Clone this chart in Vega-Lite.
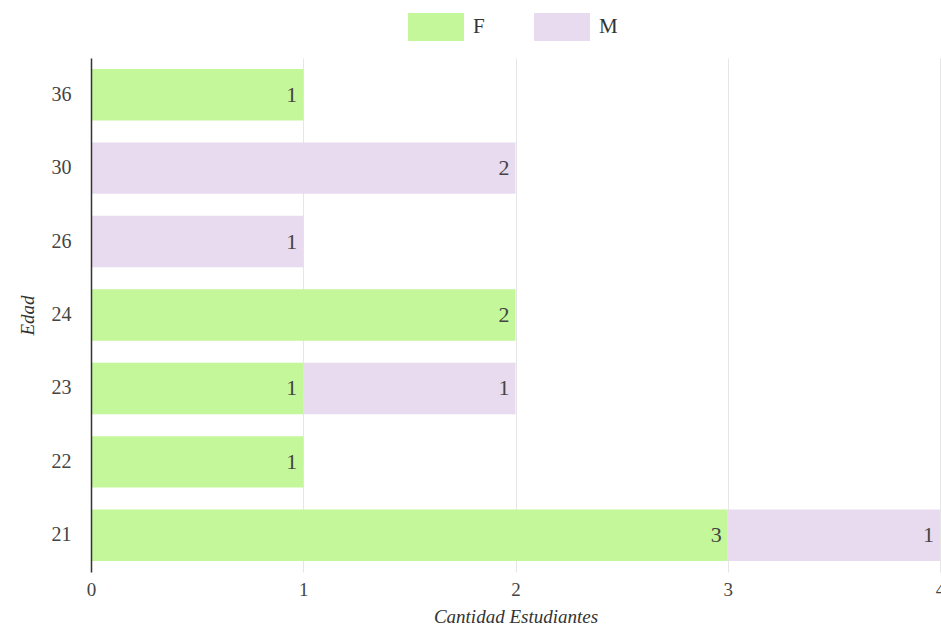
{
  "$schema": "https://vega.github.io/schema/vega-lite/v6.json",
  "autosize": {"type": "none"},
  "padding": {"left": 91, "top": 58, "right": 1, "bottom": 53},
  "width": 849,
  "height": 514,
  "background": "white",
  "config": {"view": {"stroke": null}},
  "data": {"values": [
    {"edad": "36", "sexo": "F", "n": 1},
    {"edad": "30", "sexo": "M", "n": 2},
    {"edad": "26", "sexo": "M", "n": 1},
    {"edad": "24", "sexo": "F", "n": 2},
    {"edad": "23", "sexo": "F", "n": 1},
    {"edad": "23", "sexo": "M", "n": 1},
    {"edad": "22", "sexo": "F", "n": 1},
    {"edad": "21", "sexo": "F", "n": 3},
    {"edad": "21", "sexo": "M", "n": 1}
  ]},
  "transform": [
    {"stack": "n", "groupby": ["edad"], "sort": [{"field": "sexo", "order": "ascending"}], "as": ["x0", "x1"]}
  ],
  "encoding": {
    "y": {
      "field": "edad", "type": "ordinal",
      "sort": ["36", "30", "26", "24", "23", "22", "21"],
      "scale": {"paddingInner": 0.3, "paddingOuter": 0.15},
      "axis": {
        "title": "Edad", "titleFont": "Liberation Serif", "titleFontStyle": "italic",
        "titleFontWeight": "normal", "titleFontSize": 19, "titleColor": "#333", "titlePadding": 14,
        "labelFont": "Liberation Serif", "labelFontSize": 20, "labelColor": "#444",
        "labelPadding": 20, "ticks": false, "domainColor": "#333", "domainWidth": 1.5, "grid": false,
        "zindex": 1
      }
    }
  },
  "layer": [
    {
      "mark": {"type": "bar", "opacity": 1},
      "encoding": {
        "x": {
          "field": "x0", "type": "quantitative",
          "scale": {"domain": [0, 4], "nice": false},
          "axis": {
            "title": "Cantidad Estudiantes", "titleFont": "Liberation Serif", "titleFontStyle": "italic",
            "titleFontWeight": "normal", "titleFontSize": 19, "titleColor": "#333", "titlePadding": 8,
            "labelFont": "Liberation Serif", "labelFontSize": 19, "labelColor": "#444",
            "labelPadding": 8, "ticks": false, "domain": false, "tickCount": 4,
            "grid": true, "gridColor": "#e6e6e6", "labelFlush": false, "zindex": 0
          }
        },
        "x2": {"field": "x1"},
        "color": {
          "field": "sexo", "type": "nominal",
          "scale": {"domain": ["F", "M"], "range": ["#c3f79a", "#e8dbef"]},
          "legend": {
            "title": null, "orient": "none", "direction": "horizontal",
            "legendX": 317, "legendY": -59,
            "symbolType": "M-1,-0.5H1V0.5H-1Z", "symbolSize": 3136,
            "symbolStrokeWidth": 0, "symbolOpacity": 1,
            "labelFont": "Liberation Serif", "labelFontSize": 21, "labelColor": "#333",
            "labelOffset": 9, "columnPadding": 49
          }
        }
      }
    },
    {
      "mark": {"type": "text", "align": "right", "dx": -6, "font": "Liberation Serif", "fontSize": 22, "color": "#444"},
      "encoding": {
        "x": {"field": "x1", "type": "quantitative"},
        "text": {"field": "n", "type": "quantitative"}
      }
    }
  ]
}
